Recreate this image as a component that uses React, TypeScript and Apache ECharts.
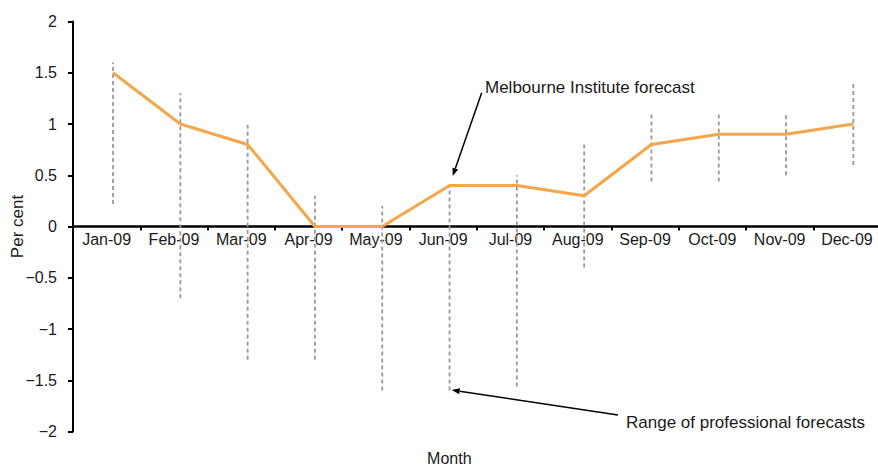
import React, { useEffect, useRef } from "react";
import * as echarts from "echarts";

const months = ["Jan-09", "Feb-09", "Mar-09", "Apr-09", "May-09", "Jun-09", "Jul-09", "Aug-09", "Sep-09", "Oct-09", "Nov-09", "Dec-09"];
const melbourneForecast = [1.5, 1.0, 0.8, 0, 0, 0.4, 0.4, 0.3, 0.8, 0.9, 0.9, 1.0];
const rangeLow = [0.22, -0.7, -1.3, -1.3, -1.6, -1.6, -1.56, -0.4, 0.44, 0.44, 0.5, 0.6];
const rangeHigh = [1.6, 1.3, 1.0, 0.3, 0.2, 0.4, 0.5, 0.8, 1.1, 1.1, 1.1, 1.4];
const yTicks = { min: -2, max: 2, interval: 0.5 };

const FONT = "'Liberation Sans', Arial, Helvetica, sans-serif";
const TEXT = "#1a1a1a";

export default function App() {
  const ref = useRef<HTMLDivElement>(null);
  useEffect(() => {
    if (!ref.current) return;
    const chart = echarts.init(ref.current, null, { renderer: "svg" });
    const rangeData = months.map((_, i) => [i, rangeLow[i], rangeHigh[i]]);
    const top = 21.5;
    const gridH = 410;
    const cellW = 67.3;
    const base = { containLabel: false, outerBoundsMode: "none" };
    chart.setOption({
      animation: false,
      textStyle: { fontFamily: FONT },
      grid: [
        { ...base, left: 73, top, width: cellW * 12, height: gridH },
        { ...base, left: 79.4, top, width: cellW * 12, height: gridH },
        { ...base, left: 73, top, width: cellW * 12, height: gridH / 2 },
      ],
      xAxis: [
        { type: "category", gridIndex: 0, data: months, show: false },
        { type: "category", gridIndex: 1, data: months, boundaryGap: true, show: false },
        {
          type: "category",
          gridIndex: 2,
          data: months,
          boundaryGap: true,
          position: "bottom",
          axisLine: { onZero: false, lineStyle: { color: "#000", width: 2.5 } },
          axisTick: { show: true, length: 4, lineStyle: { color: "#000", width: 2 } },
          axisLabel: { color: TEXT, fontSize: 16, fontFamily: FONT, margin: 5, interval: 0 },
          splitLine: { show: false },
          name: "Month",
          nameLocation: "middle",
          nameGap: 223.5,
          nameMoveOverlap: false,
          nameTextStyle: { color: TEXT, fontSize: 16, fontFamily: FONT, padding: [0, 55, 0, 0] },
        },
      ],
      yAxis: [
        {
          type: "value",
          gridIndex: 0,
          min: yTicks.min,
          max: yTicks.max,
          interval: yTicks.interval,
          axisLine: { show: true, onZero: false, lineStyle: { color: "#000", width: 2 } },
          axisTick: { show: true, length: 5, lineStyle: { color: "#000", width: 2 } },
          axisLabel: {
            color: TEXT,
            fontSize: 16,
            fontFamily: FONT,
            margin: 16,
            formatter: (v: number) => String(v).replace("-", "\u2212"),
          },
          splitLine: { show: false },
          name: "Per cent",
          nameLocation: "middle",
          nameGap: 47,
          nameRotate: 90,
          nameMoveOverlap: false,
          nameTextStyle: { color: TEXT, fontSize: 17, fontFamily: FONT },
        },
        { type: "value", gridIndex: 1, min: yTicks.min, max: yTicks.max, interval: yTicks.interval, show: false },
        { type: "value", gridIndex: 2, min: 0, max: yTicks.max, show: false },
      ],
      series: [
        {
          type: "custom",
          name: "Range of professional forecasts",
          xAxisIndex: 1,
          yAxisIndex: 1,
          data: rangeData,
          z: 1,
          renderItem: (params: any, api: any) => {
            const p1 = api.coord([api.value(0), api.value(1)]);
            const p2 = api.coord([api.value(0), api.value(2)]);
            return {
              type: "line",
              shape: { x1: p1[0], y1: p1[1], x2: p2[0], y2: p2[1] },
              style: { stroke: "#999999", lineWidth: 1.8, lineDash: [4, 3] },
            };
          },
        },
        {
          type: "line",
          name: "Melbourne Institute forecast",
          xAxisIndex: 1,
          yAxisIndex: 1,
          data: melbourneForecast,
          symbol: "none",
          z: 3,
          lineStyle: { color: "#F5A64B", width: 3 },
        },
      ],
      graphic: [
        {
          type: "text",
          x: 485,
          y: 87.5,
          style: { text: "Melbourne Institute forecast", fill: TEXT, font: `17px ${FONT}`, textVerticalAlign: "middle", verticalAlign: "middle" },
        },
        {
          type: "line",
          shape: { x1: 481.7, y1: 92.7, x2: 455.3, y2: 168.5 },
          style: { stroke: "#000", lineWidth: 1.5 },
        },
        {
          type: "polygon",
          shape: { points: [[452.7, 176], [458.1, 169.4], [452.5, 167.5]] },
          style: { fill: "#000" },
        },
        {
          type: "text",
          x: 626,
          y: 422.5,
          style: { text: "Range of professional forecasts", fill: TEXT, font: `17px ${FONT}`, textVerticalAlign: "middle", verticalAlign: "middle" },
        },
        {
          type: "line",
          shape: { x1: 618, y1: 415, x2: 459.6, y2: 391.2 },
          style: { stroke: "#000", lineWidth: 1.5 },
        },
        {
          type: "polygon",
          shape: { points: [[451.7, 390], [460.05, 388.2], [459.15, 394.2]] },
          style: { fill: "#000" },
        },
      ],
    });
    return () => chart.dispose();
  }, []);
  return <div ref={ref} style={{ position: "absolute", left: 0, top: 0, width: 878, height: 466 }} />;
}
